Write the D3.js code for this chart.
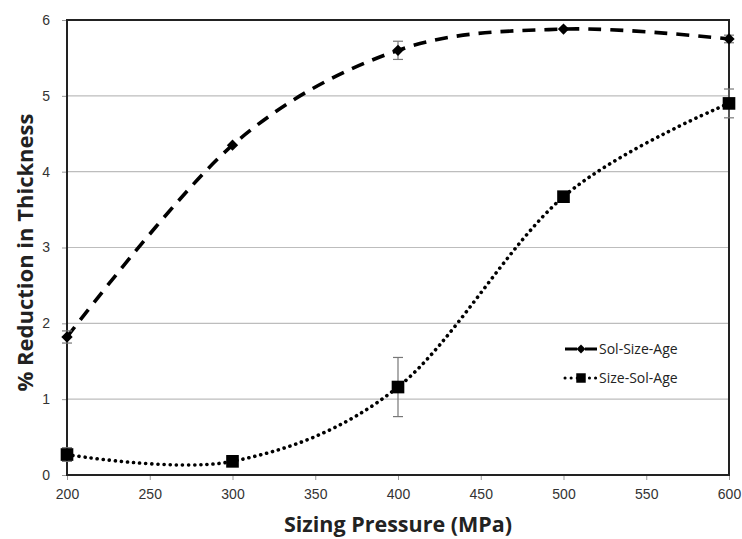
<!DOCTYPE html>
<html>
<head>
<meta charset="utf-8">
<script src="https://cdn.jsdelivr.net/npm/d3@7"></script>
<style>
  body { margin: 0; background: #fff; }
  svg { display: block; font-family: "Open Sans", sans-serif; }
</style>
</head>
<body>
<div id="chart"></div>
<script>
"use strict";

/* ── Data ── */
const pressures   = [200, 300, 400, 500, 600];
const solSizeAge  = [1.82, 4.35, 5.60, 5.88, 5.75];
const solSizeErr  = [0.08, 0.00, 0.12, 0.00, 0.05];
const sizeSolAge  = [0.27, 0.18, 1.16, 3.67, 4.90];
const sizeSolErr  = [0.09, 0.00, 0.39, 0.00, 0.19];
const xTicks      = [200, 250, 300, 350, 400, 450, 500, 550, 600];
const yTicks      = [0, 1, 2, 3, 4, 5, 6];

const seriesList = [
  { name: "Sol-Size-Age", values: solSizeAge, errs: solSizeErr, marker: "diamond", dash: "13,9",  width: 3.6, cap: "butt" },
  { name: "Size-Sol-Age", values: sizeSolAge, errs: sizeSolErr, marker: "square",  dash: "0.1,6", width: 3.6, cap: "round" }
];

/* ── Dimensions ── */
const W = 742, H = 539;
const margin = { top: 20, right: 13, bottom: 64, left: 67 };
const width  = W - margin.left - margin.right;
const height = H - margin.top - margin.bottom;

const svg = d3.select("#chart").append("svg")
  .attr("width", W).attr("height", H);

const g = svg.append("g")
  .attr("transform", `translate(${margin.left},${margin.top})`);

/* ── Scales ── */
const x = d3.scaleLinear().domain([200, 600]).range([0, width]);
const y = d3.scaleLinear().domain([0, 6]).range([height, 0]);

/* ── Gridlines ── */
g.append("g")
  .selectAll("line")
  .data(yTicks.filter(d => d > 0 && d < 6))
  .join("line")
  .attr("x1", 0).attr("x2", width)
  .attr("y1", d => y(d)).attr("y2", d => y(d))
  .attr("stroke", "#bdbdbd").attr("stroke-width", 1.2);

/* ── Axes ── */
g.append("g")
  .attr("transform", `translate(0,${height})`)
  .call(d3.axisBottom(x).tickValues(xTicks).tickSize(5).tickPadding(9).tickFormat(d3.format("d")))
  .call(a => {
    a.select(".domain").remove();
    a.selectAll(".tick line").attr("stroke", "#999");
    a.selectAll(".tick text").attr("fill", "#333").attr("font-size", "14px");
  });

g.append("g")
  .call(d3.axisLeft(y).tickValues(yTicks).tickSize(5).tickPadding(12).tickFormat(d3.format("d")))
  .call(a => {
    a.select(".domain").remove();
    a.selectAll(".tick line").attr("stroke", "#999");
    a.selectAll(".tick text").attr("fill", "#333").attr("font-size", "14px");
  });

/* ── Plot frame ── */
g.append("rect")
  .attr("x", 0).attr("y", 0)
  .attr("width", width).attr("height", height)
  .attr("fill", "none").attr("stroke", "#222").attr("stroke-width", 2);

/* ── Lines ── */
const line = d3.line()
  .x((d, i) => x(pressures[i]))
  .y(d => y(d))
  .curve(d3.curveCatmullRom.alpha(0));

seriesList.forEach(s => {
  g.append("path")
    .datum(s.values)
    .attr("d", line)
    .attr("fill", "none")
    .attr("stroke", "#000")
    .attr("stroke-width", s.width)
    .attr("stroke-dasharray", s.dash)
    .attr("stroke-linecap", s.cap);

  /* error bars */
  const eb = g.append("g").attr("stroke", "#777").attr("stroke-width", 1.2);
  s.values.forEach((v, i) => {
    const e = s.errs[i];
    if (!e) return;
    const cx = x(pressures[i]);
    eb.append("line").attr("x1", cx).attr("x2", cx).attr("y1", y(v - e)).attr("y2", y(v + e));
    [v - e, v + e].forEach(t => eb.append("line")
      .attr("x1", cx - 5).attr("x2", cx + 5).attr("y1", y(t)).attr("y2", y(t)));
  });

  /* markers */
  const isDiamond = s.marker === "diamond";
  g.append("g")
    .selectAll("path")
    .data(s.values)
    .join("path")
    .attr("d", d3.symbol(d3.symbolSquare, isDiamond ? 64 : 160)())
    .attr("transform", (d, i) => `translate(${x(pressures[i])},${y(d)})` + (isDiamond ? " rotate(45)" : ""))
    .attr("fill", "#000");
});

/* ── Legend ── */
const legend = g.append("g").attr("transform", `translate(${565 - margin.left},${349 - margin.top})`);
seriesList.forEach((s, i) => {
  const row = legend.append("g").attr("transform", `translate(0,${i * 29})`);
  row.append("line")
    .attr("x1", 0).attr("x2", 32).attr("y1", 0).attr("y2", 0)
    .attr("stroke", "#000").attr("stroke-width", 3)
    .attr("stroke-dasharray", i === 0 ? "12,8,12" : "0.1,6")
    .attr("stroke-linecap", s.cap);
  row.append("path")
    .attr("d", d3.symbol(d3.symbolSquare, i === 0 ? 40 : 90)())
    .attr("transform", `translate(16,0)` + (i === 0 ? " rotate(45)" : ""))
    .attr("fill", "#000");
  row.append("text")
    .attr("x", 34).attr("y", 5)
    .attr("font-size", "14px").attr("fill", "#222")
    .text(s.name);
});

/* ── Axis titles ── */
svg.append("text")
  .attr("x", margin.left + width / 2).attr("y", 532)
  .attr("text-anchor", "middle")
  .attr("font-size", "21.5px").attr("font-weight", "bold").attr("fill", "#222")
  .text("Sizing Pressure (MPa)");

svg.append("text")
  .attr("transform", `translate(33,${margin.top + height / 2 + 5}) rotate(-90)`)
  .attr("text-anchor", "middle")
  .attr("font-size", "22px").attr("font-weight", "bold").attr("fill", "#222")
  .text("% Reduction in Thickness");
</script>
</body>
</html>
